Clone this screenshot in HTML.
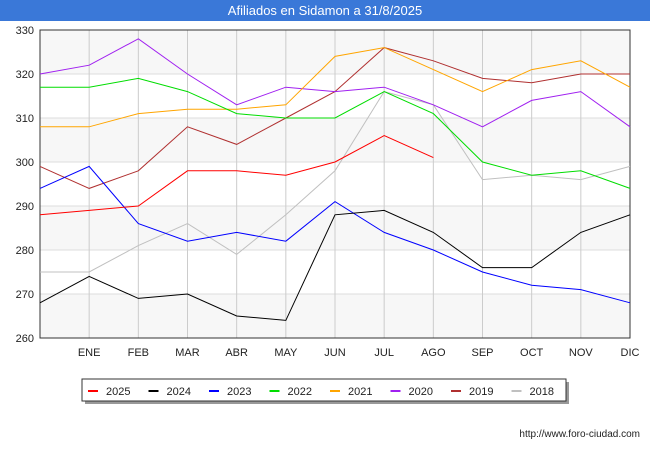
<!DOCTYPE html>
<html><head><meta charset="utf-8"><style>
body{margin:0;background:#fff;font-family:"Liberation Sans",sans-serif}
</style></head><body>
<svg id="s" width="650" height="450" xmlns="http://www.w3.org/2000/svg" font-family="Liberation Sans, sans-serif">
<rect x="0" y="0" width="650" height="450" fill="#fff"/>
<rect x="0" y="0" width="650" height="21" fill="#3a78d8"/>
<text x="325" y="15" fill="#fff" font-size="13" text-anchor="middle">Afiliados en Sidamon a 31/8/2025</text>
<g id="bands"></g>
<g id="grid"></g>
<rect x="40" y="30" width="590" height="308" fill="none" stroke="#333" stroke-width="1"/>
<g id="lines"></g>
<g id="labels" font-size="11" fill="#222"></g>
<rect x="85" y="382" width="484" height="22" fill="#999"/>
<rect x="82" y="379" width="484" height="22" fill="#fff" stroke="#333"/>
<g id="legend" font-size="11" fill="#222"></g>
<text x="640" y="437" font-size="10" text-anchor="end" fill="#222">http://www.foro-ciudad.com</text>
</svg>
<script>
const NS="http://www.w3.org/2000/svg";
function el(p,t,a,txt){const e=document.createElementNS(NS,t);for(const k in a)e.setAttribute(k,a[k]);if(txt)e.textContent=txt;document.getElementById(p).appendChild(e);}
const X=i=>40+i*(590/12), Y=v=>338-(v-260)*4.4;
for(let v=260;v<330;v+=20){el("bands","rect",{x:40,y:Y(v+10),width:590,height:44,fill:"#f7f7f7"});}
for(let v=270;v<330;v+=10)el("grid","line",{x1:40,x2:630,y1:Y(v),y2:Y(v),stroke:"#ddd"});
for(let i=1;i<12;i++)el("grid","line",{x1:X(i),x2:X(i),y1:30,y2:338,stroke:"#ccc"});
for(let v=260;v<=330;v+=10)el("labels","text",{x:34,y:Y(v)+4,"text-anchor":"end"},v);
const m=["ENE","FEB","MAR","ABR","MAY","JUN","JUL","AGO","SEP","OCT","NOV","DIC"];
m.forEach((t,i)=>el("labels","text",{x:X(i+1),y:356,"text-anchor":"middle"},t));
const S=[
["2018","#c0c0c0",[275,275,281,286,279,288,298,316,313,296,297,296,299]],
["2019","#b03030",[299,294,298,308,304,310,316,326,323,319,318,320,320]],
["2020","#a020f0",[320,322,328,320,313,317,316,317,313,308,314,316,308]],
["2021","#ffa500",[308,308,311,312,312,313,324,326,321,316,321,323,317]],
["2022","#00dd00",[317,317,319,316,311,310,310,316,311,300,297,298,294]],
["2023","#0000ff",[294,299,286,282,284,282,291,284,280,275,272,271,268]],
["2024","#000000",[268,274,269,270,265,264,288,289,284,276,276,284,288]],
["2025","#ff0000",[288,289,290,298,298,297,300,306,301]]];
S.forEach(s=>el("lines","polyline",{points:s[2].map((v,i)=>X(i)+","+Y(v)).join(" "),fill:"none",stroke:s[1],"stroke-width":1}));
const L=[["2025","#ff0000"],["2024","#000"],["2023","#00f"],["2022","#00dd00"],["2021","#ffa500"],["2020","#a020f0"],["2019","#b03030"],["2018","#c0c0c0"]];
L.forEach((l,i)=>{const x=88+i*60.5;el("legend","line",{x1:x,x2:x+10,y1:391,y2:391,stroke:l[1],"stroke-width":2});el("legend","text",{x:x+18,y:395},l[0]);});
</script>
</body></html>
